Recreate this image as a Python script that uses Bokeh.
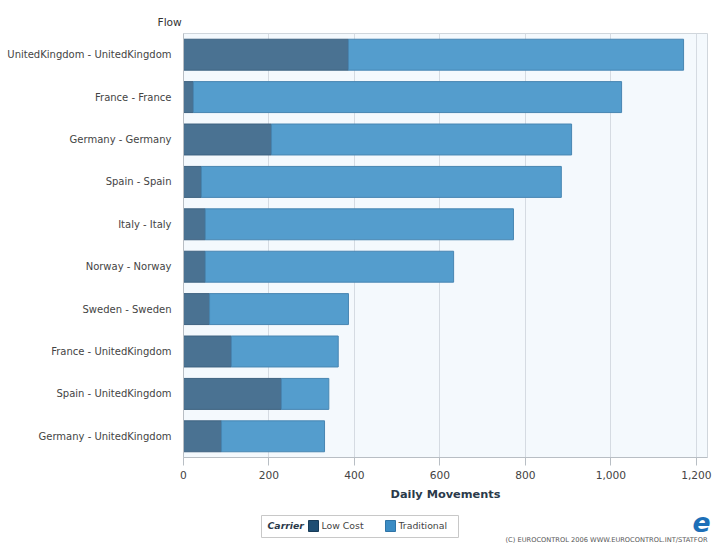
from bokeh.plotting import figure
from bokeh.layouts import column
from bokeh.models import (ColumnDataSource, FactorRange, Range1d, NumeralTickFormatter,
                          FixedTicker)
from bokeh.core.properties import value
from bokeh.embed import file_html
from bokeh.resources import INLINE

flows = ["UnitedKingdom - UnitedKingdom", "France - France", "Germany - Germany",
         "Spain - Spain", "Italy - Italy", "Norway - Norway", "Sweden - Sweden",
         "France - UnitedKingdom", "Spain - UnitedKingdom", "Germany - UnitedKingdom"]
low_cost = [386, 23, 206, 42, 51, 51, 61, 112, 229, 89]
totals = [1170, 1025, 908, 884, 772, 632, 386, 362, 340, 330]
traditional = [t - l for t, l in zip(totals, low_cost)]
x_ticks = [0, 200, 400, 600, 800, 1000, 1200]
series_names = ["Low Cost", "Traditional"]
legend_title = "Carrier"
copyright_text = "(C) EUROCONTROL 2006   WWW.EUROCONTROL.INT/STATFOR"

LOW_FILL, LOW_LINE = "#4a7292", "#3e6280"
TRAD_FILL, TRAD_LINE = "#549dcd", "#4886b2"

src = ColumnDataSource(dict(flow=flows, low=low_cost, trad=traditional,
                            total=totals, zero=[0] * len(flows)))

FONT = "DejaVu Sans"
W = 720
p = figure(width=W, height=508, output_backend="svg", toolbar_location=None,
           y_range=FactorRange(*list(reversed(flows))), x_range=Range1d(0, 1226),
           min_border_left=183, min_border_top=33, min_border_right=13, min_border_bottom=51,
           title="Flow")

p.title.align = "left"
p.title.offset = -26
p.title.text_font = FONT
p.title.text_font_size = "8pt"
p.title.text_font_style = "normal"
p.title.text_color = "#333333"

p.background_fill_color = "#f4f9fd"
p.border_fill_color = "white"
p.outline_line_color = "#d0d6dc"

p.hbar(y="flow", left="zero", right="low", height=0.73, source=src,
       fill_color=LOW_FILL, line_color=LOW_LINE, line_width=1)
p.hbar(y="flow", left="low", right="total", height=0.73, source=src,
       fill_color=TRAD_FILL, line_color=TRAD_LINE, line_width=1)

p.xgrid.grid_line_color = "#d5dbe2"
p.xgrid.ticker = FixedTicker(ticks=x_ticks)
p.ygrid.grid_line_color = None

p.xaxis.ticker = FixedTicker(ticks=x_ticks)
p.xaxis.formatter = NumeralTickFormatter(format="0,0")
p.xaxis.axis_label = "Daily Movements"
p.xaxis.axis_label_text_font = FONT
p.xaxis.axis_label_text_font_style = "bold"
p.xaxis.axis_label_text_font_size = "8.5pt"
p.xaxis.axis_label_text_color = "#2b3a4a"
p.xaxis.axis_label_standoff = 5
p.xaxis.major_label_text_font = FONT
p.xaxis.major_label_text_font_size = "8pt"
p.xaxis.major_label_text_color = "#444444"
p.xaxis.major_label_standoff = 5
p.xaxis.major_tick_out = 8
p.xaxis.major_tick_in = 0
p.xaxis.minor_tick_line_color = None
p.xaxis.axis_line_color = "#b8bec4"
p.xaxis.major_tick_line_color = "#b8bec4"

p.yaxis.major_label_text_font = FONT
p.yaxis.major_label_text_font_size = "7.5pt"
p.yaxis.major_label_text_color = "#444444"
p.yaxis.major_tick_line_color = None
p.yaxis.minor_tick_line_color = None
p.yaxis.axis_line_color = "#b8bec4"
p.yaxis.major_label_standoff = 6

# footer: legend box, copyright and logo (pixel-like coordinates, y downward)
f = figure(width=W, height=40, output_backend="svg", toolbar_location=None,
           x_range=Range1d(0, W), y_range=Range1d(40, 0),
           x_axis_location=None, y_axis_location=None, min_border=0)
if "frame_align" in f.properties():
    f.frame_align = False
f.outline_line_color = None
f.grid.grid_line_color = None
f.background_fill_color = "white"

f.quad(left=[261], right=[458], top=[7], bottom=[29], fill_color="white",
       line_color="#c8c8c8", line_width=1)
f.text(x=[267], y=[17], text=[legend_title], text_font=value(FONT), text_font_size="7pt",
       text_font_style="bold italic", text_color="#2b3a4a", text_baseline="middle")
f.quad(left=[308], right=[318], top=[12], bottom=[23], fill_color="#1f4e73",
       line_color="#173b58")
f.text(x=[321], y=[17], text=[series_names[0]], text_font=value(FONT), text_font_size="7pt",
       text_color="#444444", text_baseline="middle")
f.quad(left=[385], right=[395], top=[12], bottom=[23], fill_color="#3b8cc4",
       line_color="#2f74a6")
f.text(x=[398], y=[17], text=[series_names[1]], text_font=value(FONT), text_font_size="7pt",
       text_color="#444444", text_baseline="middle")
f.text(x=[505], y=[31], text=[copyright_text],
       text_font=value(FONT), text_font_size="5pt", text_color="#555555",
       text_baseline="middle")
f.text(x=[692], y=[13], text=["e"], text_font=value(FONT), text_font_size="20pt",
       text_font_style="bold italic", text_color="#1d6fb8", text_baseline="middle")

layout = column(p, f, spacing=0)
open("out.html", "w").write(file_html(layout, INLINE))
